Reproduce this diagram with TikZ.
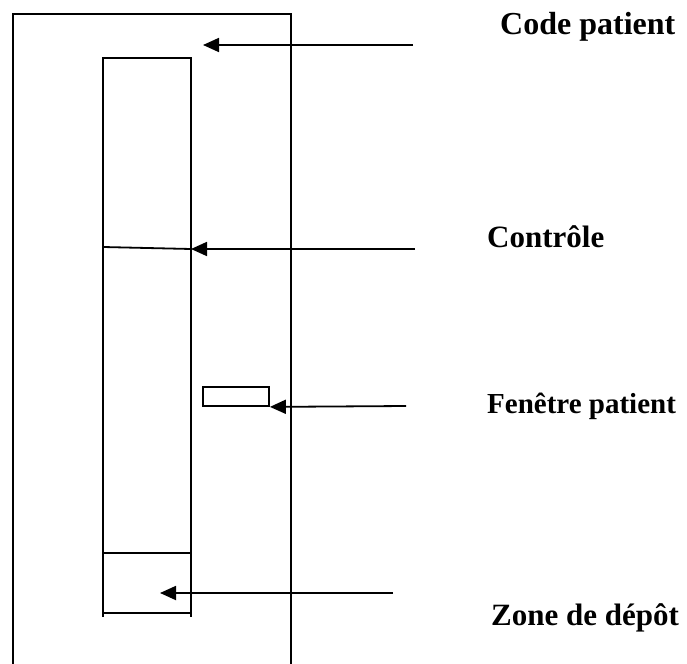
\documentclass[tikz,border=0pt]{standalone}
\usepackage{fontspec}
\setmainfont{Liberation Serif}
\usetikzlibrary{arrows.meta}
\begin{document}
\begin{tikzpicture}[x=1pt,y=-1pt,
  frame/.style={line width=1.8pt,line cap=rect},
  pointer/.style={line width=1.8pt,-{Triangle[length=16pt,width=14pt]}},
  label/.style={anchor=base west,inner sep=0pt}]
\useasboundingbox (0,0) rectangle (687,663);

% cassette outline, open at the bottom
\draw[frame] (13,663) -- (13,14) -- (291,14) -- (291,663);

% inner strip with its divisions
\draw[frame] (103,616) -- (103,58) -- (191,58) -- (191,616);
\draw[frame] (103,613) -- (191,613);
\draw[frame] (103,553) -- (191,553);
\draw[frame] (103,247) -- (191,249);

% patient window
\node[draw,line width=1.8pt,minimum width=66pt,minimum height=19pt,inner sep=0pt]
  (win) at (236,396.5) {};

% target points
\coordinate (tcode) at (203,45);
\coordinate (tctrl) at (191,249);
\coordinate (tzone) at (160,593);

% labels
\node[label,font=\bfseries\fontsize{32}{36}\selectfont] (lcode) at (500,35) {Code patient};
\node[label,font=\bfseries\fontsize{31}{36}\selectfont] (lctrl) at (487,247) {Contrôle};
\node[label,font=\bfseries\fontsize{29}{34}\selectfont] (lwin) at (487,413) {Fenêtre patient};
\node[label,font=\bfseries\fontsize{31}{36}\selectfont] (lzone) at (491,625) {Zone de dépôt};

% arrow tails
\coordinate (scode) at (413,45);
\coordinate (sctrl) at (415,249);
\coordinate (swin) at (406,406);
\coordinate (szone) at (393,593);

\draw[pointer] (scode) -- (tcode);
\draw[pointer] (sctrl) -- (tctrl);
\draw[pointer] (swin) -- (win.south east);
\draw[pointer] (szone) -- (tzone);
\end{tikzpicture}
\end{document}
